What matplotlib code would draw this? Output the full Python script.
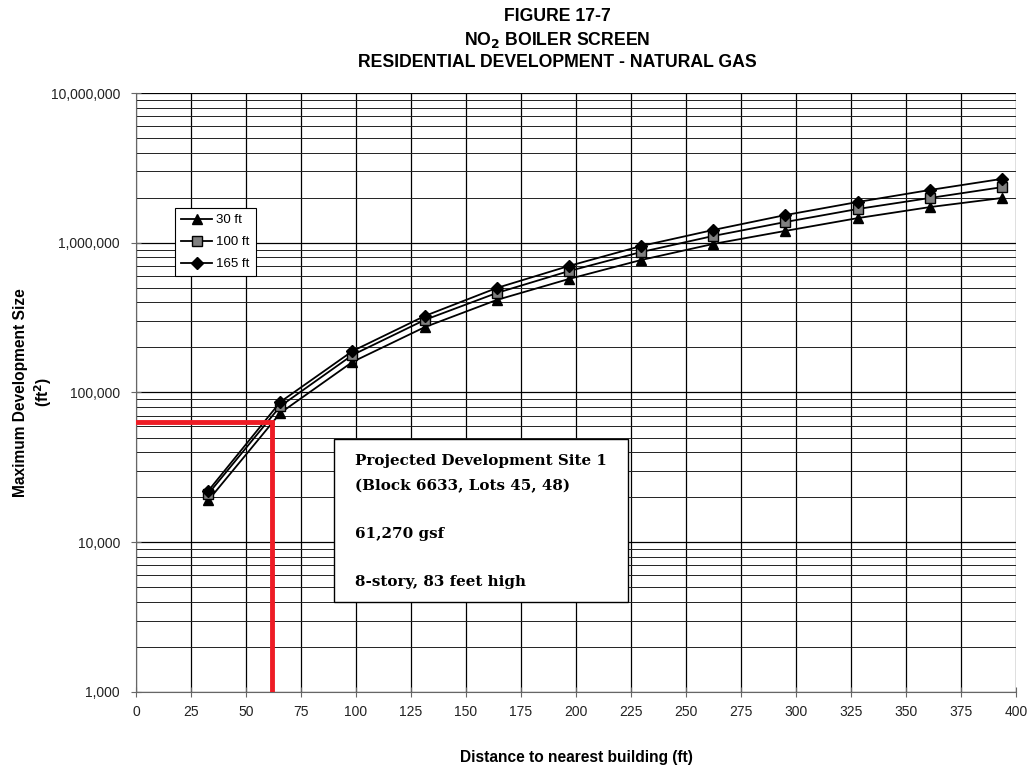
import numpy as np
import matplotlib.pyplot as plt
from matplotlib.patches import Rectangle
from matplotlib.ticker import FuncFormatter, LogLocator, MultipleLocator

# Distance to nearest building (ft)
distance = [32.8, 65.6, 98.4, 131.2, 164.0, 196.8, 229.6, 262.4, 295.2, 328.0, 360.8, 393.6]

# Maximum development size (ft2) per stack height
size_30 = [19000, 73000, 160000, 273000, 415000, 573000, 767000, 982000,
           1200000, 1460000, 1730000, 1990000]
size_100 = [21000, 81000, 178000, 305000, 462000, 647000, 867000, 1110000,
            1376000, 1680000, 1990000, 2350000]
size_165 = [22000, 86500, 189000, 324000, 499000, 700000, 951000, 1217000,
            1531000, 1871000, 2250000, 2670000]

# Projected site
site_distance = 62
site_size = 64000

plt.rcParams['font.family'] = ['Liberation Sans', 'DejaVu Sans']

fig = plt.figure(figsize=(10.32, 7.68), dpi=100)
ax = fig.add_axes([0.1318, 0.099, 0.8527, 0.7799])

ax.plot(distance, size_30, color='black', lw=1.3, marker='^', ms=7,
        mfc='black', mec='black', label='30 ft', zorder=5)
ax.plot(distance, size_100, color='black', lw=1.3, marker='s', ms=7,
        mfc='#808080', mec='black', label='100 ft', zorder=5)
ax.plot(distance, size_165, color='black', lw=1.3, marker='D', ms=6,
        mfc='black', mec='black', label='165 ft', zorder=5)

# red guide lines
ax.plot([0, site_distance], [site_size, site_size], color='#ee1c25', lw=3.5,
        solid_capstyle='projecting', zorder=6)
ax.plot([site_distance, site_distance], [1000, site_size], color='#ee1c25', lw=3.5,
        solid_capstyle='butt', zorder=6)

ax.set_yscale('log')
ax.set_xlim(0, 400)
ax.set_ylim(1000, 10000000)
ax.xaxis.set_major_locator(MultipleLocator(25))
ax.yaxis.set_major_locator(LogLocator(base=10, numticks=10))
ax.yaxis.set_minor_locator(LogLocator(base=10, subs=np.arange(2, 10), numticks=50))
ax.yaxis.set_major_formatter(FuncFormatter(lambda v, p: f'{v:,.0f}'))
ax.yaxis.set_minor_formatter(FuncFormatter(lambda v, p: ''))

ax.grid(True, which='major', axis='both', color='black', lw=0.9)
ax.grid(True, which='minor', axis='y', color='#222222', lw=0.7)
ax.set_axisbelow(True)

for s in ['top', 'right']:
    ax.spines[s].set_visible(False)
for s in ['left', 'bottom']:
    ax.spines[s].set_color('#666666')
ax.tick_params(which='major', direction='inout', length=7, colors='#666666',
               labelcolor='#222222', labelsize=10)
ax.tick_params(which='minor', length=0)
ax.tick_params(axis='x', pad=6)
ax.tick_params(axis='y', pad=8)

ax.set_xlabel('Distance to nearest building (ft)', fontsize=11.2, fontweight='bold')
ax.xaxis.set_label_coords(0.5, -0.0975)
ax.set_ylabel('Maximum Development Size\n(ft$^\\mathbf{2}$)', fontsize=11.2,
              fontweight='bold', linespacing=1.25)
ax.yaxis.set_label_coords(-0.0935, 0.5)

leg = ax.legend(loc='upper left', bbox_to_anchor=(0.044, 0.808), fontsize=9.5,
                frameon=True, fancybox=False, edgecolor='black', framealpha=1,
                handlelength=2.4, handletextpad=0.3, borderpad=0.45,
                labelspacing=0.75, borderaxespad=0)
leg.get_frame().set_linewidth(0.8)

# annotation box
ax.add_patch(Rectangle((0.225, 0.150), 0.334, 0.2724, transform=ax.transAxes,
                       facecolor='white', edgecolor='black', lw=1.0, zorder=7))
serif = ['DejaVu Serif']
box_lines = ['Projected Development Site 1', '(Block 6633, Lots 45, 48)',
             '61,270 gsf', '8-story, 83 feet high']
box_y = [0.385, 0.343, 0.263, 0.183]
for txt, yy in zip(box_lines, box_y):
    ax.text(0.249, yy, txt, transform=ax.transAxes, fontsize=10.9,
            fontweight='bold', family=serif, va='center', ha='left', zorder=8)

fig.text(0.54, 0.978, 'FIGURE 17-7', ha='center', va='center',
         fontsize=12.7, fontweight='bold')
fig.text(0.54, 0.948, 'NO$_\\mathbf{2}$ BOILER SCREEN', ha='center', va='center',
         fontsize=12.7, fontweight='bold')
fig.text(0.54, 0.919, 'RESIDENTIAL DEVELOPMENT - NATURAL GAS', ha='center',
         va='center', fontsize=12.7, fontweight='bold')

fig.savefig('out.png', dpi=100)
